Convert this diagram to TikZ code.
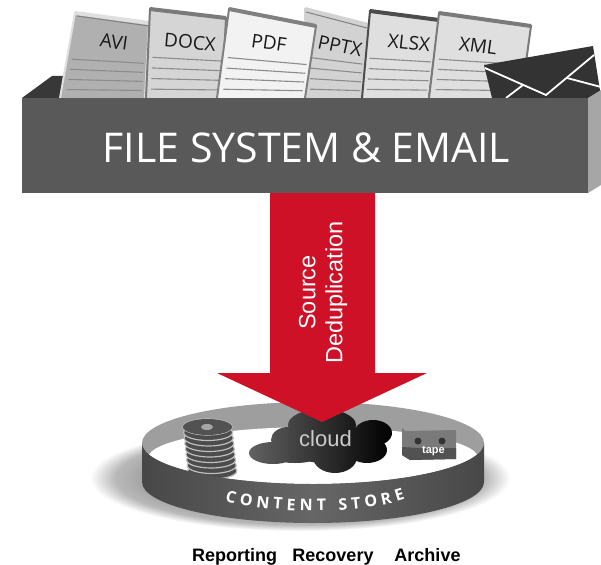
\documentclass[tikz,border=0pt]{standalone}
\usepackage{fontspec}
\setmainfont{Liberation Sans}
\newfontfamily\opensans{Open Sans}
\usetikzlibrary{calc,decorations.text}
\definecolor{boxgray}{HTML}{595959}
\definecolor{arrowred}{HTML}{CE1126}
\pgfdeclareradialshading{softshadow}{\pgfpoint{0bp}{0bp}}{color(0bp)=(gray!85);color(17bp)=(gray!80);color(22bp)=(gray!55);color(25bp)=(white);color(50bp)=(white)}
\tikzset{
 doclabel/.style={font=\opensans\fontsize{19}{19}\selectfont,text=black!90,inner sep=0pt},
 docline/.style={draw=black!45,line width=1.1pt},
 boxtitle/.style={font=\opensans\fontsize{41}{41}\selectfont,text=white,inner sep=0pt},
 bottomlabel/.style={font=\bfseries\fontsize{18}{18}\selectfont,text=black,inner sep=0pt,anchor=base},
}
% corners TL TR BR BL, fill, edge colour, label, label position, rotation
\newcommand{\docsheet}[9]{%
 \coordinate (tl) at #1; \coordinate (tr) at #2; \coordinate (br) at #3; \coordinate (bl) at #4;
 \fill[#5] (tl) -- (tr) -- (br) -- (bl) -- cycle;
 \draw[#6,line width=2pt] (bl) -- (tl) -- (tr) -- (br);
 \draw[#6,line width=4pt] (tl) -- (tr);
 \foreach \f in {0.54,0.66,0.78,0.9}{
  \draw[docline] ($($(tl)!\f!(bl)$)!0.06!($(tr)!\f!(br)$)$) -- ($($(tl)!\f!(bl)$)!0.96!($(tr)!\f!(br)$)$);
 }
 \node[doclabel,rotate=#9] at #8 {#7};
}
\begin{document}
\begin{tikzpicture}[x=1pt,y=-1pt]
\useasboundingbox (0,0) rectangle (601,564);
\fill[white] (0,0) rectangle (601,564);
% back of the box
\fill[black!78] (22,98) -- (52,76) -- (63,76) -- (60,98) -- cycle;
% sheets
\docsheet{(75,13)}{(149,23)}{(145,98)}{(60,98)}{gray!62}{gray!25}{AVI}{(114,42)}{-8}
\draw[black!50,line width=1pt] ($(tl)+(2,3)$) -- ($(tr)+(0,3)$);
\docsheet{(150,9)}{(226,18)}{(222,98)}{(146,98)}{gray!33}{black!52}{DOCX}{(190,42)}{-5}
\docsheet{(305,9)}{(368,25)}{(362,98)}{(307,98)}{gray!35}{gray!35}{PPTX}{(340,46)}{-12}
\draw[black!50,line width=1pt] ($(tl)+(1,3)$) -- ($(tr)+(-1,3)$);
\docsheet{(229,9)}{(316,26)}{(305,98)}{(217,98)}{gray!10}{black!50}{PDF}{(269,43)}{-8}
\docsheet{(370,11)}{(439,20)}{(429,98)}{(362,98)}{gray!25}{black!70}{XLSX}{(409,43)}{-6}
\docsheet{(439,13)}{(531,26)}{(521,98)}{(429,98)}{gray!25}{black!52}{XML}{(478,46)}{-8}
% envelope
\fill[black!80] (484,65) -- (593,46) -- (601,97) -- (601,98) -- (492,98) -- cycle;
\draw[white,line width=1.8pt] (485,68) -- (546,95) -- (594,55);
\draw[white,line width=1.8pt] (506,98) -- (523,85);
\draw[white,line width=1.8pt] (567,78) -- (601,87);
% box
\fill[gray!70] (588,98) -- (601,90) -- (601,185) -- (588,193) -- cycle;
\fill[boxgray] (22,98) rectangle (588,193);
\node[boxtitle] (title) at (306.5,148) {FILE SYSTEM \& EMAIL};
% store
\path[shading=softshadow] (300,478) ellipse [x radius=210pt,y radius=53pt];
\fill[black!38] (313,443) ellipse [x radius=171pt,y radius=41pt];
\begin{scope}
 \clip (313,443) ellipse [x radius=171pt,y radius=41pt];
 \fill[white] (313,458) ellipse [x radius=165pt,y radius=31pt];
\end{scope}
% disks
\foreach \i in {8,7,...,0}{
 \filldraw[fill=black!70,draw=gray!50,line width=1.2pt] ({207.5+0.6*\i},{427+5.5*\i}) ellipse [x radius=24.5pt,y radius=8pt];
}
\fill[black!68] (207.5,427) ellipse [x radius=24.5pt,y radius=8pt];
\fill[gray!70] (207,427) ellipse [x radius=6pt,y radius=3pt];
% cloud
\path[left color=black!62,right color=black]
 (273,453) ellipse [x radius=24pt,y radius=11pt]
 (288,440) ellipse [x radius=17pt,y radius=13pt]
 (322,425) ellipse [x radius=34pt,y radius=16pt]
 (373,433) ellipse [x radius=19pt,y radius=13pt]
 (367,450) ellipse [x radius=20pt,y radius=13pt]
 (335,457) ellipse [x radius=22pt,y radius=16pt]
 (295,452) ellipse [x radius=30pt,y radius=11pt]
 (325,443) ellipse [x radius=42pt,y radius=20pt];
\node[font=\fontsize{22}{22}\selectfont,text=gray!40,inner sep=0pt] (cloudlabel) at (325.5,439) {cloud};
% tape
\fill[black!38] (402,428) -- (408,425) -- (452,424) -- (456,430) -- (405,431) -- cycle;
\fill[black!52] (402,428) -- (405,431) -- (456,430) -- (456,459) -- (410,460) -- (402,455) -- cycle;
\fill[black!68] (402,447) -- (420,448) -- (456,448) -- (456,459) -- (410,460) -- (402,455) -- cycle;
\fill[black!80] (418,441) circle (3.5pt) (442,441) circle (3.5pt);
\node[font=\bfseries\fontsize{11}{11}\selectfont,text=white,inner sep=0pt] (tapelabel) at (433.5,451) {tape};
% front wall
\path[left color=black!72,right color=black!72,middle color=black!60]
 (142,443) arc[start angle=180,end angle=360,x radius=171pt,y radius=41pt]
 -- (484,482) arc[start angle=0,end angle=-180,x radius=171pt,y radius=41pt] -- cycle;
\path[decorate,decoration={text along path,text format delimiters={|}{|},
  text={|\opensans\bfseries\fontsize{16}{16}\selectfont\color{white}|CONTENT STORE},
  text align=fit to path}]
 (225,501) .. controls (270,513) and (355,516) .. (405,499);
% arrow
\fill[arrowred] (270,193) -- (375,193) -- (375,373) -- (427,373) -- (322,422) -- (217,373) -- (270,373) -- cycle;
\node[rotate=90,font=\fontsize{23.5}{27}\selectfont,text=white,align=center,inner sep=0pt] (arrowlabel) at (323,292.5) {Source\\Deduplication};
% bottom labels
\node[bottomlabel] (reporting) at (234.5,561) {Reporting};
\node[bottomlabel] (recovery) at (333,561) {Recovery};
\node[bottomlabel] (archive) at (427.5,561) {Archive};
\end{tikzpicture}
\end{document}
